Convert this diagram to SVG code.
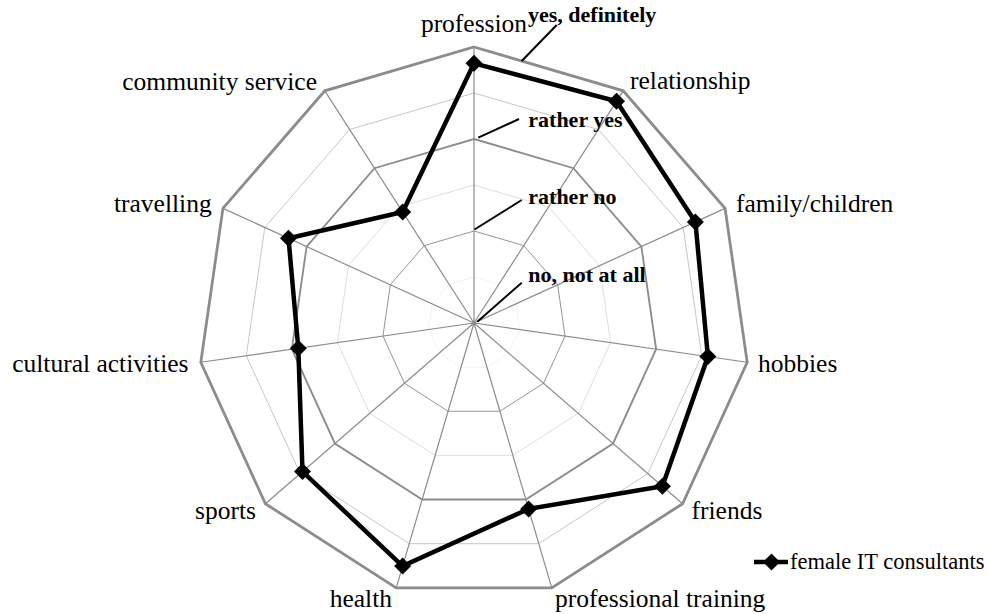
<svg xmlns="http://www.w3.org/2000/svg" xmlns:xlink="http://www.w3.org/1999/xlink" width="987" height="614" viewBox="0 0 987 614">
<style>
  .lbl { font-family: "Liberation Serif", "Times New Roman", serif; font-size: 25.5px; fill: #000; }
  .scl { font-family: "Liberation Serif", "Times New Roman", serif; font-size: 22px; font-weight: bold; fill: #000; }
  .leg { font-family: "Liberation Serif", "Times New Roman", serif; font-size: 22.5px; fill: #000; }
  .thick { fill: none; stroke: #8c8c8c; stroke-width: 2.8; }
  .thin { fill: none; stroke: #bcbcbc; stroke-width: 1; }
  .axis { fill: none; stroke: #8c8c8c; stroke-width: 1.2; }
  .lead { stroke: #000; stroke-width: 2; fill: none; }
  .data { fill: none; stroke: #000; stroke-width: 4.5; stroke-linejoin: miter; }
</style>
<defs>
  <polygon id="ring" points="0,-276 149.22,-232.19 251.06,-114.66 273.19,39.28 208.59,180.74 77.76,264.82 -77.76,264.82 -208.59,180.74 -273.19,39.28 -251.06,-114.66 -149.22,-232.19"/>
  <marker id="dm" markerUnits="userSpaceOnUse" markerWidth="20" markerHeight="20" viewBox="-10 -10 20 20" refX="0" refY="0" orient="0">
    <path d="M0,-8.5 L8.5,0 L0,8.5 L-8.5,0 Z" fill="#000"/>
  </marker>
</defs>
<rect width="987" height="614" fill="#fff"/>
<g id="grid">
  <g transform="translate(474,323)">
    <use xlink:href="#ring" class="thin" transform="scale(0.16667)" style="vector-effect:non-scaling-stroke"/>
    <use xlink:href="#ring" class="thin" transform="scale(0.5)" style="vector-effect:non-scaling-stroke"/>
    <use xlink:href="#ring" class="thin" transform="scale(0.83333)" style="vector-effect:non-scaling-stroke"/>
    <path class="axis" d="M0,0L0,-276M0,0L149.22,-232.19M0,0L251.06,-114.66M0,0L273.19,39.28M0,0L208.59,180.74M0,0L77.76,264.82M0,0L-77.76,264.82M0,0L-208.59,180.74M0,0L-273.19,39.28M0,0L-251.06,-114.66M0,0L-149.22,-232.19"/>
    <use xlink:href="#ring" class="thick" transform="scale(0.33333)" style="vector-effect:non-scaling-stroke"/>
    <use xlink:href="#ring" class="thick" transform="scale(0.66667)" style="vector-effect:non-scaling-stroke"/>
    <use xlink:href="#ring" class="thick"/>
  </g>
</g>
<g id="scale-labels">
  <path class="lead" d="M521.7,61L556.7,25M478.3,137.7L519,119M474.5,229.5L521.7,200M477.3,321.7L521.7,282.7"/>
  <text class="scl" x="528" y="22">yes, definitely</text>
  <text class="scl" x="528.3" y="126.7">rather yes</text>
  <text class="scl" x="528.3" y="204">rather no</text>
  <text class="scl" x="528.3" y="281.7">no, not at all</text>
</g>
<g id="axis-labels">
  <text class="lbl" x="474" y="32" text-anchor="middle">profession</text>
  <text class="lbl" x="630" y="89">relationship</text>
  <text class="lbl" x="736" y="212">family/children</text>
  <text class="lbl" x="758" y="372">hobbies</text>
  <text class="lbl" x="691.5" y="518.5">friends</text>
  <text class="lbl" x="555" y="606.5">professional training</text>
  <text class="lbl" x="392" y="606.5" text-anchor="end">health</text>
  <text class="lbl" x="256" y="518.5" text-anchor="end">sports</text>
  <text class="lbl" x="188.5" y="372" text-anchor="end">cultural activities</text>
  <text class="lbl" x="211.7" y="212" text-anchor="end">travelling</text>
  <text class="lbl" x="317" y="90" text-anchor="end">community service</text>
</g>
<g id="series-female-IT-consultants">
  <polygon class="data" marker-start="url(#dm)" marker-mid="url(#dm)" points="474,63.3 616.5,101.3 695.4,221.9 707.9,356.6 662.4,486.2 528.6,508.9 402.6,566.1 302.5,471.6 298.3,348.3 288.5,238.3 402.7,212"/>
</g>
<g id="legend">
  <line x1="754" y1="562" x2="788" y2="562" stroke="#000" stroke-width="4.5"/>
  <path d="M771.5,553.5 L780,562 L771.5,570.5 L763,562 Z" fill="#000"/>
  <text class="leg" x="790" y="569">female IT consultants</text>
</g>
</svg>
